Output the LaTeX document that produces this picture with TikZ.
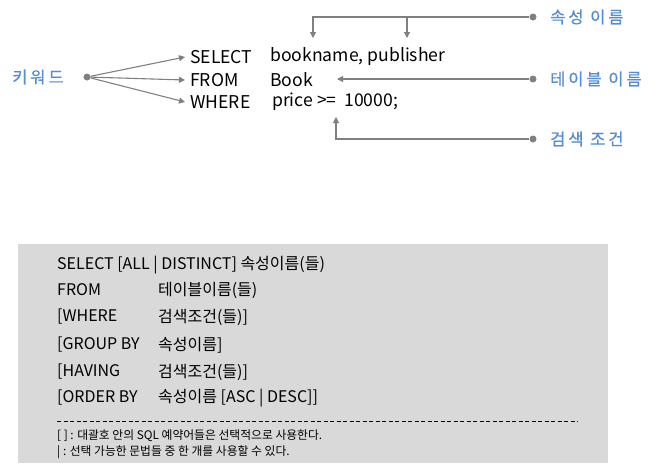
\documentclass[tikz,border=0pt]{standalone}
\usepackage{fontspec}
\setmainfont{Noto Sans CJK KR}
\newfontfamily\lblfont[LetterSpace=18,FakeBold=0.6]{Noto Sans CJK KR}
\usetikzlibrary{arrows.meta}
\definecolor{lblblue}{RGB}{84,141,212}
\definecolor{arrgray}{RGB}{128,128,128}
\definecolor{boxgray}{RGB}{217,217,217}
\begin{document}
\begin{tikzpicture}[x=1pt,y=-1pt,
  lbl/.style={anchor=west,inner sep=0pt,text=lblblue,font=\lblfont\fontsize{16.5}{19}\selectfont},
  sql/.style={anchor=west,inner ysep=0pt,inner xsep=0pt,font=\fontsize{17.6}{20}\selectfont},
  kwd/.style={sql,inner xsep=5pt},
  syn/.style={anchor=west,inner sep=0pt,font=\fontsize{16}{18}\selectfont},
  note/.style={anchor=west,inner sep=0pt,font=\fontsize{11.8}{13}\selectfont},
  conn/.style={draw=arrgray,line width=1.1pt},
  arr/.style={conn,-{Triangle[width=6pt,length=6pt]}},
  dot/.style={circle,fill=arrgray,inner sep=0pt,minimum size=7pt}]
\useasboundingbox (0,0) rectangle (668,467);
% top part
\node[lbl] (kwlab) at (12,77) {키워드};
\node[dot] (kwdot) at (87,77) {};
\node[kwd] (sel) at (185,57) {SELECT};
\node[kwd] (frm) at (185,80) {FROM};
\node[kwd] (whr) at (185,102) {WHERE};
\node[sql] (cols) at (270,57) {bookname, publisher};
\node[sql] (tbl) at (270,80) {Book};
\node[sql] (cond) at (272,102) {price >=\ \ 10000;};
\draw[arr] (kwdot) -- (sel.west);
\draw[arr] (kwdot) -- (frm.west);
\draw[arr] (kwdot) -- (whr.west);

\node[dot] (d1) at (533,17) {};
\node[dot] (d2) at (533,79) {};
\node[dot] (d3) at (533,139) {};
\node[lbl] (l1) at (550,17) {속성 이름};
\node[lbl] (l2) at (550,79) {테이블 이름};
\node[lbl] (l3) at (550,139) {검색 조건};
\coordinate (t1) at (313,38);
\coordinate (t2) at (407,38);
\coordinate (t3) at (337,79);
\coordinate (t4) at (336,117);
\draw[arr] (d1) -- (t1 |- d1) -- (t1);
\draw[arr] (t2 |- d1) -- (t2);
\draw[arr] (d2) -- (t3);
\draw[arr] (d3) -- (t4 |- d3) -- (t4);

% syntax box
\fill[boxgray] (18,244) rectangle (608,463);
\node[syn] (s1) at (57,265) {SELECT [ALL | DISTINCT] 속성이름(들)};
\node[syn] (s2) at (57,290) {FROM};
\node[syn] (s2b) at (158,290) {테이블이름(들)};
\node[syn] (s3) at (57,317) {[WHERE};
\node[syn] (s3b) at (158,317) {검색조건(들)]};
\node[syn] (s4) at (57,345) {[GROUP BY};
\node[syn] (s4b) at (158,345) {속성이름]};
\node[syn] (s5) at (57,372) {[HAVING};
\node[syn] (s5b) at (158,372) {검색조건(들)]};
\node[syn] (s6) at (57,398) {[ORDER BY};
\node[syn] (s6b) at (158,398) {속성이름 [ASC | DESC]]};
\coordinate (dl) at (57,421);
\coordinate (dr) at (578,421);
\draw[line width=0.8pt,dash pattern=on 4pt off 2.5pt] (dl) -- (dr);
\node[note] (n1) at (57,436) {[ ] : 대괄호 안의 SQL 예약어들은 선택적으로 사용한다.};
\node[note] (n2) at (57,452) {| : 선택 가능한 문법들 중 한 개를 사용할 수 있다.};
\end{tikzpicture}
\end{document}
